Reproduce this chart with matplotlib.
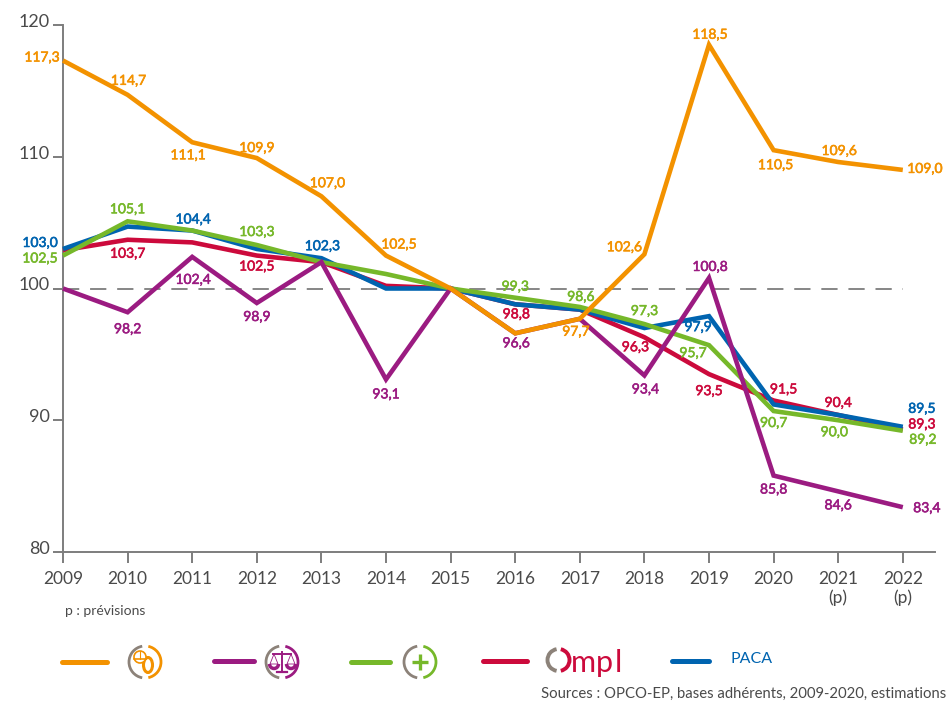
import matplotlib
matplotlib.use("Agg")
import matplotlib.pyplot as plt
import matplotlib.patheffects as pe
from matplotlib.patches import Arc, Ellipse, Circle
from matplotlib.transforms import Affine2D

years = list(range(2009, 2023))
year_labels = [str(y) for y in years[:-2]] + ["2021\n(p)", "2022\n(p)"]
y_ticks = [80, 90, 100, 110, 120]

orange = [117.3, 114.7, 111.1, 109.9, 107.0, 102.5, 100, 96.6, 97.7, 102.6, 118.5, 110.5, 109.6, 109.0]
purple = [100, 98.2, 102.4, 98.9, 102.0, 93.1, 100, 96.6, 97.7, 93.4, 100.8, 85.8, 84.6, 83.4]
green = [102.5, 105.1, 104.4, 103.3, 102.0, 101.1, 100, 99.3, 98.6, 97.3, 95.7, 90.7, 90.0, 89.2]
red = [102.9, 103.7, 103.5, 102.5, 102.0, 100.2, 100, 98.8, 98.4, 96.3, 93.5, 91.5, 90.4, 89.3]
blue = [103.0, 104.7, 104.4, 103.0, 102.3, 100, 100, 98.8, 98.4, 97.0, 97.9, 91.2, 90.4, 89.5]

ORANGE = "#f39200"
PURPLE = "#9b1b81"
GREEN = "#76b82a"
RED = "#cc0a3c"
BLUE = "#0064b0"
GREY = "#7d7d7d"
TXT = "#4a4a4a"
LOGO = "#8c8279"

plt.rcParams["font.family"] = ["Lato", "DejaVu Sans"]

W, H = 947, 701
fig = plt.figure(figsize=(W / 100, H / 100), dpi=100)
ax = fig.add_axes([63 / W, 1 - 552 / H, (935 - 63) / W, (552 - 25) / H])
ax.set_xlim(2009, 2009 + (935 - 63) / 64.6)
ax.set_ylim(80, 120)

for s in ["top", "right"]:
    ax.spines[s].set_visible(False)
for s in ["left", "bottom"]:
    ax.spines[s].set_color(GREY)
    ax.spines[s].set_linewidth(1.4)
ax.set_xticks(years)
ax.set_xticklabels(year_labels, fontsize=12.5, color=TXT, linespacing=1.15)
ax.set_yticks(y_ticks)
ax.set_yticklabels([str(v) for v in y_ticks], fontsize=13, color=TXT, va="center")
ax.tick_params(axis="x", length=8, width=1.4, color=GREY, pad=6)
ax.tick_params(axis="y", length=7.5, width=1.4, color=GREY, pad=2)
# the y labels sit a little above their ticks
for t in ax.get_yticklabels():
    t.set_transform(t.get_transform() + Affine2D().translate(0, 3))

ax.plot([2009, 2022], [100, 100], color=GREY, lw=1.3, dashes=(9, 6), zorder=1)

series = [(red, RED), (blue, BLUE), (green, GREEN), (purple, PURPLE), (orange, ORANGE)]
for vals, col in series:
    ax.plot(years, vals, color=col, lw=3.3, solid_joinstyle="miter", solid_capstyle="butt", zorder=3, clip_on=False)


def lab(year, val, col, dx, dy):
    txt = f"{val:.1f}".replace(".", ",")
    t = ax.annotate(txt, (year, val), xytext=(dx, dy), textcoords="offset pixels", ha="center", va="center",
                    color=col, fontsize=10, zorder=5, annotation_clip=False)
    t.set_path_effects([pe.withStroke(linewidth=0.4, foreground=col)])


# label offsets in pixels from the point, placed by eye
lab(2009, 117.3, ORANGE, -21, 3)
lab(2010, 114.7, ORANGE, 1, 14)
lab(2011, 111.1, ORANGE, -4, -13)
lab(2012, 109.9, ORANGE, 0, 10)
lab(2013, 107.0, ORANGE, 6, 13)
lab(2014, 102.5, ORANGE, 13, 11)
lab(2017, 97.7, ORANGE, -4, -13)
lab(2018, 102.6, ORANGE, -20, 7)
lab(2019, 118.5, ORANGE, 1, 10)
lab(2020, 110.5, ORANGE, 2, -15)
lab(2021, 109.6, ORANGE, 1, 11)
lab(2022, 109.0, ORANGE, 22, 1)

lab(2010, 98.2, PURPLE, 0, -17)
lab(2011, 102.4, PURPLE, 1, -23)
lab(2012, 98.9, PURPLE, 0, -14)
lab(2014, 93.1, PURPLE, 0, -15)
lab(2016, 96.6, PURPLE, 1, -10)
lab(2018, 93.4, PURPLE, 1, -14)
lab(2019, 100.8, PURPLE, 1, 11)
lab(2020, 85.8, PURPLE, 0, -14)
lab(2021, 84.6, PURPLE, 0, -14)
lab(2022, 83.4, PURPLE, 24, -1)

lab(2009, 102.5, GREEN, -23, -3)
lab(2010, 105.1, GREEN, 0, 12)
lab(2012, 103.3, GREEN, 0, 13)
lab(2016, 99.3, GREEN, 0, 11)
lab(2017, 98.6, GREEN, 1, 10)
lab(2018, 97.3, GREEN, 0, 13)
lab(2019, 95.7, GREEN, -16, -8)
lab(2020, 90.7, GREEN, 0, -12)
lab(2021, 90.0, GREEN, -4, -12)
lab(2022, 89.2, GREEN, 20, -9)

lab(2010, 103.7, RED, 0, -14)
lab(2012, 102.5, RED, 0, -11)
lab(2016, 98.8, RED, 1, -10)
lab(2018, 96.3, RED, -9, -10)
lab(2019, 93.5, RED, 0, -17)
lab(2020, 91.5, RED, 10, 11)
lab(2021, 90.4, RED, 0, 12)
lab(2022, 89.3, RED, 19, 5)

lab(2009, 103.0, BLUE, -23, 6)
lab(2011, 104.4, BLUE, 1, 11)
lab(2013, 102.3, BLUE, 1, 12)
lab(2019, 97.9, BLUE, -11, -11)
lab(2022, 89.5, BLUE, 19, 18)

# overlay in pixel coordinates for the legend and the notes
ov = fig.add_axes([0, 0, 1, 1])
ov.set_xlim(0, W)
ov.set_ylim(H, 0)
ov.axis("off")
ov.patch.set_alpha(0)

ov.text(65, 611, "p : prévisions", fontsize=10, color=TXT, va="center")
ov.text(946, 694, "Sources : OPCO-EP, bases adhérents, 2009-2020, estimations", fontsize=10.7, color=TXT,
        ha="right", va="center")

keys = [(62, 107, 662, ORANGE), (214, 254, 661, PURPLE), (351, 390, 662, GREEN), (483, 527, 661, RED),
        (672, 709, 661, BLUE)]
for x0, x1, y, col in keys:
    ov.plot([x0, x1], [y, y], color=col, lw=3.6, solid_capstyle="round")


def ring(cx, cy, col, r=16):
    # y axis is flipped, angles run clockwise on screen
    ov.add_patch(Arc((cx, cy), 2 * r, 2 * r, theta1=100, theta2=260, color=LOGO, lw=2))
    ov.add_patch(Arc((cx, cy), 2 * r, 2 * r, theta1=-78, theta2=78, color=col, lw=2))


ring(145, 662, ORANGE)
ov.add_patch(Ellipse((148, 665), 9, 15, fc="white", ec=ORANGE, lw=2.2))
ov.add_patch(Circle((140, 657), 6, fc="white", ec=ORANGE, lw=1.2))
ov.plot([134, 146], [659, 659], color=ORANGE, lw=1.2)
ov.plot([140, 140], [651, 659], color=ORANGE, lw=0.8)

ring(282, 662, PURPLE)
ov.plot([282, 282], [652, 671], color=PURPLE, lw=1.4)
ov.plot([273, 291], [654, 654], color=PURPLE, lw=1.4)
ov.plot([277, 287], [672, 672], color=PURPLE, lw=1.6)
ov.add_patch(Arc((274, 664), 9, 9, theta1=0, theta2=180, color=PURPLE, lw=2.5))
ov.add_patch(Arc((291, 664), 9, 9, theta1=0, theta2=180, color=PURPLE, lw=2.5))
ov.plot([274, 270, 278, 274], [654, 664, 664, 654], color=PURPLE, lw=0.6)
ov.plot([291, 287, 295, 291], [654, 664, 664, 654], color=PURPLE, lw=0.6)

ring(420, 662, GREEN)
ov.plot([420, 420], [654, 670], color=GREEN, lw=2.4, solid_capstyle="butt")
ov.plot([412, 428], [662, 662], color=GREEN, lw=2.4, solid_capstyle="butt")

# Ompl logo
ov.add_patch(Arc((558.5, 660), 22, 22, theta1=100, theta2=260, color=LOGO, lw=2.8))
ov.add_patch(Arc((558.5, 660), 22, 22, theta1=-78, theta2=78, color=RED, lw=2.8))
for x, ch in [(571, "m"), (596, "p"), (615, "l")]:
    ov.text(x, 672, ch, fontsize=22, color=RED, va="baseline", ha="left")

ov.text(730, 659, "PACA", fontsize=11.5, color=BLUE, va="center")

fig.savefig("out.png", dpi=100)
